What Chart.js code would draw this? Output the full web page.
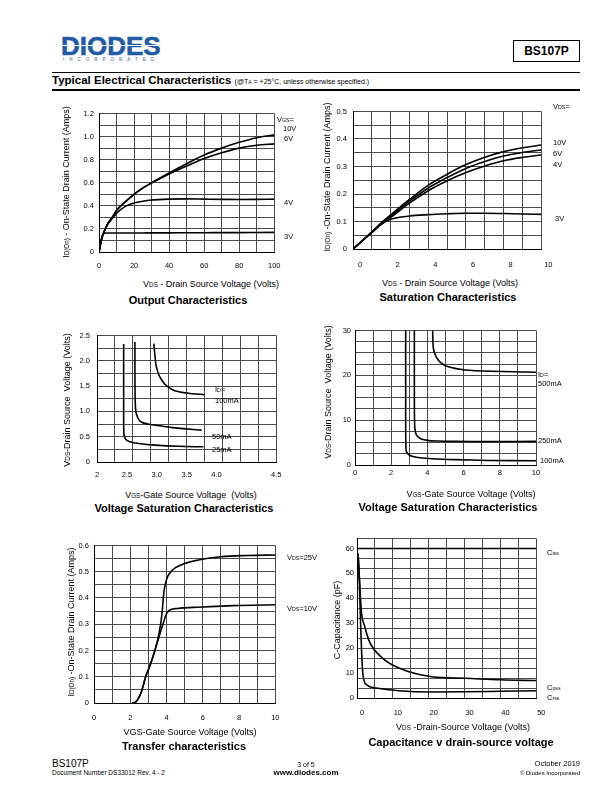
<!DOCTYPE html>
<html>
<head>
<meta charset="utf-8">
<script src="https://cdn.jsdelivr.net/npm/chart.js@4.4.1/dist/chart.umd.min.js"></script>
<style>
  body { margin:0; width:612px; height:792px; position:relative; background:#fff; overflow:hidden;
         font-family:"Liberation Sans", Arial, sans-serif; color:#000; }
  canvas { position:absolute; }
  .a { position:absolute; white-space:nowrap; line-height:1; }
  .c { transform:translate(-50%,-50%); }
  .r { transform:translate(-50%,-50%) rotate(-90deg); }
  .l { transform:translateY(-50%); }
  .ax { font-size:9px; }
  .ti { font-size:11px; font-weight:bold; }
  .cv { font-size:7.5px; }
  small { font-size:70%; }
</style>
</head>
<body>

<!-- header -->
<div class="a" style="left:61px;top:32.5px;font-size:26px;font-weight:bold;color:#1f5ba6;-webkit-text-stroke:0.6px #1f5ba6;">DIODES</div>
<div class="a" style="left:60px;top:44.6px;width:104px;height:1.1px;background:#fff;"></div>
<div class="a" style="left:63px;top:57.5px;font-size:4.5px;letter-spacing:5px;color:#1f5ba6;">INCORPORATED</div>
<div class="a" style="left:513px;top:40px;width:65px;height:20px;border:1.3px solid #000;font-size:12px;font-weight:bold;text-align:center;line-height:20px;">BS107P</div>
<div class="a" style="left:52px;top:72px;width:528px;height:1px;background:#000;"></div>
<div class="a l" style="left:52px;top:80.5px;font-size:11.5px;font-weight:bold;">Typical Electrical Characteristics <span style="font-size:7px;font-weight:normal;">(@T<small>A</small> = +25°C, unless otherwise specified.)</span></div>
<div class="a" style="left:52px;top:88.5px;width:528px;height:2.5px;background:#000;"></div>

<canvas id="cOut"></canvas>
<canvas id="cSat"></canvas>
<canvas id="cVs1"></canvas>
<canvas id="cVs2"></canvas>
<canvas id="cTr"></canvas>
<canvas id="cCap"></canvas>

<!-- Output Characteristics -->
<div class="a r ax" style="left:66px;top:182px;">I<small>D(On)</small> - On-State Drain Current (Amps)</div>
<div class="a c ax" style="left:211px;top:284px;">V<small>DS</small> - Drain Source Voltage (Volts)</div>
<div class="a c ti" style="left:188px;top:300px;">Output Characteristics</div>
<div class="a l cv" style="left:277px;top:120px;">V<small>GS</small>=</div>
<div class="a l cv" style="left:283px;top:129px;">10V</div>
<div class="a l cv" style="left:284px;top:139px;">6V</div>
<div class="a l cv" style="left:284px;top:203px;">4V</div>
<div class="a l cv" style="left:284px;top:237px;">3V</div>

<!-- Saturation Characteristics -->
<div class="a r ax" style="left:327px;top:177px;">I<small>D(On)</small> -On-State Drain Current (Amps)</div>
<div class="a c ax" style="left:450px;top:283px;">V<small>DS</small> - Drain Source Voltage (Volts)</div>
<div class="a c ti" style="left:448px;top:297px;">Saturation Characteristics</div>
<div class="a l cv" style="left:553px;top:107px;">V<small>DS</small>=</div>
<div class="a l cv" style="left:553px;top:143px;">10V</div>
<div class="a l cv" style="left:553px;top:154px;">6V</div>
<div class="a l cv" style="left:553px;top:165px;">4V</div>
<div class="a l cv" style="left:555px;top:219px;">3V</div>

<!-- Voltage Saturation (left) -->
<div class="a r ax" style="left:67px;top:400px;">V<small>DS</small>-Drain Source&nbsp; Voltage (Volts)</div>
<div class="a c ax" style="left:191px;top:495px;">V<small>GS</small>-Gate Source Voltage&nbsp; (Volts)</div>
<div class="a c ti" style="left:184px;top:508px;">Voltage Saturation Characteristics</div>
<div class="a l cv" style="left:215px;top:390px;">I<small>D</small>=</div>
<div class="a l cv" style="left:215px;top:401px;">100mA</div>
<div class="a l cv" style="left:212px;top:437px;">50mA</div>
<div class="a l cv" style="left:212px;top:450px;">25mA</div>

<!-- Voltage Saturation (right) -->
<div class="a r ax" style="left:328px;top:392px;">V<small>DS</small>-Drain Source&nbsp; Voltage (Volts)</div>
<div class="a c ax" style="left:471px;top:494px;">V<small>GS</small>-Gate Source Voltage (Volts)</div>
<div class="a c ti" style="left:448px;top:507px;">Voltage Saturation Characteristics</div>
<div class="a l cv" style="left:538px;top:375px;">I<small>D</small>=</div>
<div class="a l cv" style="left:538px;top:384px;">500mA</div>
<div class="a l cv" style="left:538px;top:441px;">250mA</div>
<div class="a l cv" style="left:540px;top:461px;">100mA</div>

<!-- Transfer characteristics -->
<div class="a r ax" style="left:71px;top:622px;">I<small>D(On)</small> -On-State Drain Current (Amps)</div>
<div class="a c ax" style="left:190px;top:732px;">VGS-Gate Source Voltage (Volts)</div>
<div class="a c ti" style="left:184px;top:746px;">Transfer characteristics</div>
<div class="a l cv" style="left:287px;top:558px;">V<small>DS</small>=25V</div>
<div class="a l cv" style="left:287px;top:609px;">V<small>DS</small>=10V</div>

<!-- Capacitance -->
<div class="a r ax" style="left:337px;top:620px;">C-Capacitance (pF)</div>
<div class="a c ax" style="left:463px;top:727px;">V<small>DS</small> -Drain-Source Voltage (Volts)</div>
<div class="a c ti" style="left:461px;top:742px;">Capacitance v drain-source voltage</div>
<div class="a l cv" style="left:547px;top:553px;">C<small>iss</small></div>
<div class="a l cv" style="left:547px;top:688px;">C<small>oss</small></div>
<div class="a l cv" style="left:547px;top:698px;">C<small>rss</small></div>

<!-- footer -->
<div class="a l" style="left:52px;top:764px;font-size:10px;">BS107P</div>
<div class="a l" style="left:52px;top:773px;font-size:6.5px;">Document Number DS33012 Rev. 4 - 2</div>
<div class="a c" style="left:306px;top:764px;font-size:7px;">3 of 5</div>
<div class="a c" style="left:306px;top:773px;font-size:8px;font-weight:bold;">www.diodes.com</div>
<div class="a" style="right:32px;top:760px;font-size:7.5px;">October 2019</div>
<div class="a" style="right:32px;top:770px;font-size:6px;">© Diodes Incorporated</div>

<script>
const FONT = '"Liberation Sans", Arial, sans-serif';
const GRID = '#4a4a4a';
const PAD = {l: 30, t: 6, r: 12, b: 24};

// Output Characteristics: ID vs VDS
const outVds   = [0, 1, 2, 3, 5, 7.5, 10, 15, 20, 25, 30, 40, 50, 60, 70, 80, 90, 100];
const outVgs10 = [0, 0.08, 0.14, 0.18, 0.245, 0.3, 0.36, 0.435, 0.5, 0.555, 0.6, 0.685, 0.765, 0.84, 0.9, 0.95, 0.99, 1.015];
const outVgs6  = [0, 0.08, 0.14, 0.18, 0.245, 0.3, 0.36, 0.435, 0.5, 0.553, 0.597, 0.675, 0.745, 0.81, 0.86, 0.9, 0.925, 0.937];
const outVgs4  = [0, 0.08, 0.14, 0.18, 0.24, 0.29, 0.335, 0.395, 0.425, 0.44, 0.45, 0.458, 0.46, 0.458, 0.456, 0.455, 0.456, 0.458];
const outVgs3  = [0, 0.08, 0.14, 0.163, 0.165, 0.165, 0.165, 0.165, 0.165, 0.165, 0.166, 0.166, 0.167, 0.167, 0.168, 0.168, 0.169, 0.17];
const outXTicks = [0, 20, 40, 60, 80, 100];
const outXLabels = ['0', '20', '40', '60', '80', '100'];
const outYTicks = [0, 0.2, 0.4, 0.6, 0.8, 1.0, 1.2];
const outYLabels = ['0', '0.2', '0.4', '0.6', '0.8', '1.0', '1.2'];

// Saturation Characteristics
const satVds   = [0, 1, 1.5, 2, 3, 4, 5, 6, 7, 8, 9, 10];
const satVgs10 = [0, 0.062, 0.095, 0.124, 0.18, 0.232, 0.272, 0.307, 0.334, 0.354, 0.368, 0.378];
const satVgs6  = [0, 0.061, 0.093, 0.12, 0.174, 0.222, 0.26, 0.293, 0.318, 0.338, 0.351, 0.36];
const satVgs4  = [0, 0.06, 0.09, 0.115, 0.167, 0.212, 0.248, 0.278, 0.302, 0.321, 0.333, 0.342];
const satVgs3  = [0, 0.06, 0.09, 0.108, 0.12, 0.125, 0.128, 0.13, 0.13, 0.129, 0.127, 0.126];
const satXTicks = [0, 2, 4, 6, 8, 10];
const satXLabels = ['0', '2', '4', '6', '8', '10'];
const satYTicks = [0, 0.1, 0.2, 0.3, 0.4, 0.5];
const satYLabels = ['0', '0.1', '0.2', '0.3', '0.4', '0.5'];

// Voltage Saturation (VGS 2..4.5)
const vs1Id25Vgs  = [2.446, 2.446, 2.45, 2.48, 2.55, 2.7, 2.98, 3.37, 3.78];
const vs1Id25Vds  = [2.33, 1.2, 0.56, 0.45, 0.40, 0.365, 0.333, 0.31, 0.30];
const vs1Id50Vgs  = [2.635, 2.635, 2.645, 2.68, 2.74, 2.85, 2.95, 3.26, 3.75];
const vs1Id50Vds  = [2.37, 1.6, 1.05, 0.88, 0.79, 0.75, 0.73, 0.68, 0.63];
const vs1Id100Vgs = [2.95, 2.97, 2.99, 3.04, 3.1, 3.17, 3.3, 3.53, 3.8];
const vs1Id100Vds = [2.34, 2.1, 1.9, 1.71, 1.59, 1.5, 1.41, 1.36, 1.33];
const vs1XTicks = [2, 2.5, 3, 3.5, 4, 5];
const vs1XLabels = ['2', '2.5', '3.0', '3.5', '4.0', '4.5'];
const vs1YTicks = [0, 0.5, 1, 1.5, 2, 2.5];
const vs1YLabels = ['0', '0.5', '1.0', '1.5', '2.0', '2.5'];

// Voltage Saturation (VGS 0..10)
const vs2Id100Vgs = [2.80, 2.80, 2.82, 2.95, 3.2, 3.6, 4.24, 5.52, 7.37, 10];
const vs2Id100Vds = [30, 15, 3.3, 2.35, 1.9, 1.6, 1.4, 1.2, 1.02, 0.95];
const vs2Id250Vgs = [3.28, 3.28, 3.3, 3.38, 3.6, 4.0, 4.5, 5.5, 7.5, 10];
const vs2Id250Vds = [30, 15, 8.5, 6.8, 5.9, 5.5, 5.35, 5.27, 5.25, 5.27];
const vs2Id500Vgs = [4.29, 4.33, 4.5, 4.75, 5.15, 6.08, 7.55, 10];
const vs2Id500Vds = [30, 26, 24, 22.8, 21.9, 21.2, 20.9, 20.7];
const vs2XTicks = [0, 2, 4, 6, 8, 10];
const vs2XLabels = ['0', '2', '4', '6', '8', '10'];
const vs2YTicks = [0, 10, 20, 30];
const vs2YLabels = ['0', '10', '20', '30'];

// Transfer characteristics
const tr25Vgs = [2.1, 2.3, 2.6, 2.85, 3.1, 3.4, 3.6, 3.75, 3.85, 4.0, 4.3, 4.8, 5.7, 7.0, 8.5, 10];
const tr25Id  = [0, 0.004, 0.04, 0.1, 0.145, 0.21, 0.27, 0.34, 0.42, 0.47, 0.505, 0.526, 0.544, 0.557, 0.562, 0.564];
const tr10Vgs = [2.1, 2.3, 2.6, 2.85, 3.1, 3.4, 3.6, 3.8, 4.0, 4.2, 4.6, 5.7, 7.7, 10];
const tr10Id  = [0, 0.004, 0.04, 0.1, 0.145, 0.21, 0.255, 0.3, 0.34, 0.355, 0.36, 0.365, 0.371, 0.374];
const trXTicks = [0, 2, 4, 6, 8, 10];
const trXLabels = ['0', '2', '4', '6', '8', '10'];
const trYTicks = [0, 0.1, 0.2, 0.3, 0.4, 0.5, 0.6];
const trYLabels = ['0', '0.1', '0.2', '0.3', '0.4', '0.5', '0.6'];

// Capacitance v drain-source voltage
const cissVds = [0, 50];
const cissC   = [60, 60];
const cossVds = [0.3, 0.8, 1.2, 2.1, 3.5, 7.1, 11.7, 20.9, 30, 40, 50];
const cossC   = [58, 45, 35, 29, 22.5, 16, 12, 8.5, 7.9, 7.3, 7.0];
const crssVds = [0.3, 0.7, 1.0, 1.3, 1.65, 2.6, 5.3, 11.7, 20.9, 30, 40, 50];
const crssC   = [58, 45, 30, 18, 9.5, 5.4, 4.0, 2.9, 2.4, 2.5, 2.7, 2.9];
const capXTicks = [0, 10, 20, 30, 40, 50];
const capXLabels = ['0', '10', '20', '30', '40', '50'];
const capYTicks = [0, 10, 20, 30, 40, 50, 60];
const capYLabels = ['0', '10', '20', '30', '40', '50', '60'];

function pts(xs, ys) { return xs.map((x, i) => ({x: x, y: ys[i]})); }

// axis with grid lines every `step` and labels only at tickVals
function axis(horiz, min, max, step, tickVals, tickLabels, pad, shift) {
    const grid = [];
    const n = Math.round((max - min) / step);
    for (let i = 0; i <= n; i++) grid.push(+(min + i * step).toFixed(6));
    const near = (a, b) => Math.abs(a - b) < 1e-6;
    const vals = grid.slice();
    tickVals.forEach(v => { if (!vals.some(g => near(g, v))) vals.push(v); });
    vals.sort((a, b) => a - b);
    return {
        type: 'linear', min: min, max: max,
        afterBuildTicks: s => { s.ticks = vals.map(v => ({value: v})); },
        afterFit: s => { if (horiz) s.height = PAD.b; else s.width = PAD.l; },
        grid: {
            drawTicks: false, lineWidth: 1,
            color: c => (c.tick && grid.some(g => near(g, c.tick.value))) ? GRID : 'rgba(0,0,0,0)'
        },
        border: {display: true, color: '#000', width: 1},
        ticks: {
            autoSkip: false, maxRotation: 0, minRotation: 0,
            padding: pad, labelOffset: shift || 0,
            color: '#000', font: {size: 7.5, family: FONT},
            callback: v => {
                const i = tickVals.findIndex(u => near(u, v));
                return i < 0 ? '' : tickLabels[i];
            }
        }
    };
}

function plot(id, box, xAxis, yAxis, series, smooth) {
    const cv = document.getElementById(id);
    cv.width = box.w + PAD.l + PAD.r;
    cv.height = box.h + PAD.t + PAD.b;
    cv.style.left = (box.l - PAD.l) + 'px';
    cv.style.top = (box.t - PAD.t) + 'px';
    new Chart(cv, {
        type: 'line',
        data: {
            datasets: series.map(d => ({
                data: d, borderColor: '#000', borderWidth: 1.6, pointRadius: 0, fill: false,
                tension: smooth ? 0.4 : 0.25,
                cubicInterpolationMode: smooth ? 'monotone' : 'default'
            }))
        },
        options: {
            responsive: false, animation: false, devicePixelRatio: 1, events: [],
            layout: {padding: {left: 0, top: PAD.t, right: PAD.r, bottom: 0}},
            plugins: {legend: {display: false}, tooltip: {enabled: false}},
            scales: {x: xAxis, y: yAxis}
        }
    });
}

plot('cOut', {l: 99, t: 110, w: 179, h: 142},
    axis(true, 0, 100, 10, outXTicks, outXLabels, 9.5),
    axis(false, 0, 1.2, 0.1, outYTicks, outYLabels, 5),
    [pts(outVds, outVgs10), pts(outVds, outVgs6), pts(outVds, outVgs4), pts(outVds, outVgs3)], true);

plot('cSat', {l: 353, t: 107, w: 192, h: 142},
    axis(true, 0, 10, 1, satXTicks, satXLabels, 11.5, 7),
    axis(false, 0, 0.5, 0.05, satYTicks, satYLabels, 6),
    [pts(satVds, satVgs10), pts(satVds, satVgs6), pts(satVds, satVgs4), pts(satVds, satVgs3)], true);

plot('cVs1', {l: 97, t: 330, w: 181, h: 132},
    axis(true, 2, 5, 0.3, vs1XTicks, vs1XLabels, 8.5),
    axis(false, 0, 2.5, 0.25, vs1YTicks, vs1YLabels, 7),
    [pts(vs1Id25Vgs, vs1Id25Vds), pts(vs1Id50Vgs, vs1Id50Vds), pts(vs1Id100Vgs, vs1Id100Vds)], false);

plot('cVs2', {l: 355, t: 328, w: 181, h: 137},
    axis(true, 0, 10, 1, vs2XTicks, vs2XLabels, 3.5),
    axis(false, 0, 30, 2.5, vs2YTicks, vs2YLabels, 4),
    [pts(vs2Id100Vgs, vs2Id100Vds), pts(vs2Id250Vgs, vs2Id250Vds), pts(vs2Id500Vgs, vs2Id500Vds)], false);

plot('cTr', {l: 94, t: 542, w: 184, h: 161},
    axis(true, 0, 10, 1, trXTicks, trXLabels, 10.5),
    axis(false, 0, 0.6, 0.05, trYTicks, trYLabels, 5),
    [pts(tr25Vgs, tr25Id), pts(tr10Vgs, tr10Id)], true);

plot('cCap', {l: 357, t: 537, w: 182, h: 161},
    axis(true, 0, 50, 5, capXTicks, capXLabels, 10.5, 5),
    axis(false, 0, 64, 4, capYTicks, capYLabels, 3),
    [pts(cissVds, cissC), pts(cossVds, cossC), pts(crssVds, crssC)], true);
</script>
</body>
</html>
